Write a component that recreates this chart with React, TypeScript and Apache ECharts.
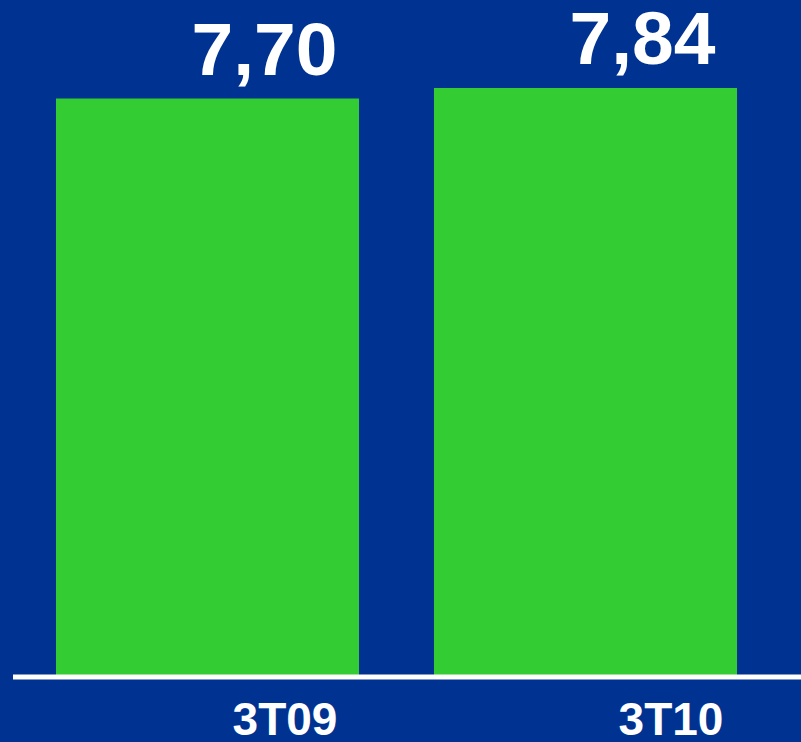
import React, { useEffect, useRef } from "react";
import * as echarts from "echarts";

const categories = ["3T09", "3T10"];
const values = [7.7, 7.84];
const valueLabels = ["7,70", "7,84"];

export default function App() {
  const ref = useRef<HTMLDivElement>(null);
  useEffect(() => {
    if (!ref.current) return;
    const chart = echarts.init(ref.current, null, { renderer: "svg" });
    chart.setOption({
      animation: false,
      backgroundColor: "#003391",
      grid: { left: 18.5, width: 756, top: 1, bottom: 60 },
      xAxis: {
        type: "category",
        data: categories,
        axisLine: { show: false },
        axisTick: { show: false },
        axisLabel: {
          margin: 28,
          formatter: (v: string, i: number) => `{c${i}|${v}}`,
          rich: {
            c0: { color: "#fff", fontFamily: "Liberation Sans", fontWeight: "bold", fontSize: 46, lineHeight: 30, padding: [0, 0, 0, 155] },
            c1: { color: "#fff", fontFamily: "Liberation Sans", fontWeight: "bold", fontSize: 46, lineHeight: 30, padding: [0, 0, 0, 171] },
          },
        },
      },
      yAxis: {
        type: "value",
        min: 0,
        max: 9,
        show: false,
        splitLine: { show: false },
      },
      series: [
        {
          type: "bar",
          data: values,
          barWidth: 303,
          itemStyle: { color: "#33CC33" },
          label: {
            show: true,
            position: "top",
            distance: 18,
            offset: [57, 0],
            formatter: (p: any) => valueLabels[p.dataIndex],
            color: "#fff",
            fontFamily: "Liberation Sans",
            fontWeight: "bold",
            fontSize: 75,
            lineHeight: 64,
          },
        },
      ],
      graphic: [
        {
          type: "line",
          shape: { x1: 13, y1: 677, x2: 801, y2: 677 },
          style: { stroke: "#ffffff", lineWidth: 5 },
          z: 100,
        },
      ],
    });
    return () => chart.dispose();
  }, []);
  return <div ref={ref} style={{ width: 801, height: 742, position: "absolute", left: 0, top: 0 }} />;
}
